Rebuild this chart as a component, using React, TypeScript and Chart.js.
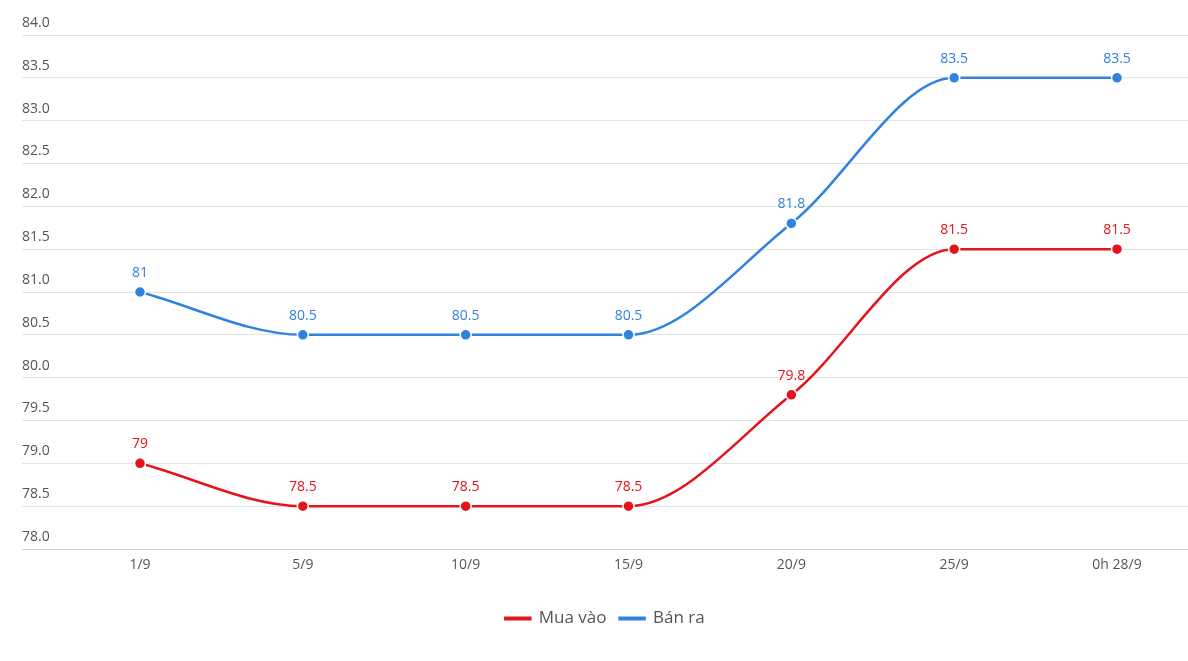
import React, { useEffect, useRef } from "react";
import { Chart, registerables } from "chart.js";

Chart.register(...registerables);

const categories = ["1/9", "5/9", "10/9", "15/9", "20/9", "25/9", "0h 28/9"];
const muaVao = [79, 78.5, 78.5, 78.5, 79.8, 81.5, 81.5];
const banRa = [81, 80.5, 80.5, 80.5, 81.8, 83.5, 83.5];
const seriesNames = ["Mua vào", "Bán ra"];
const RED = "#e3141b";
const BLUE = "#3182de";
const FONT = "'Open Sans', 'Noto Sans', sans-serif";

const dataLabelPlugin = {
  id: "dataLabels",
  afterDatasetsDraw(chart: any) {
    const ctx = chart.ctx;
    ctx.save();
    ctx.font = `14px ${FONT}`;
    ctx.textAlign = "center";
    ctx.textBaseline = "middle";
    chart.data.datasets.forEach((ds: any, di: number) => {
      const meta = chart.getDatasetMeta(di);
      ctx.fillStyle = ds.borderColor;
      meta.data.forEach((pt: any, i: number) => {
        const v = ds.data[i].y;
        ctx.fillText(String(v), pt.x, pt.y - 19);
      });
    });
    ctx.restore();
  },
};

export default function App() {
  const ref = useRef<HTMLCanvasElement | null>(null);
  useEffect(() => {
    if (!ref.current) return;
    const toPts = (arr: number[]) => arr.map((y, i) => ({ x: i, y }));
    const chart = new Chart(ref.current, {
      type: "line",
      data: {
        datasets: [
          {
            label: seriesNames[0],
            data: toPts(muaVao),
            borderColor: RED,
            backgroundColor: RED,
            borderWidth: 2.5,
            pointRadius: 5.5,
            pointBorderColor: "#ffffff",
            pointBorderWidth: 1.5,
            pointBackgroundColor: RED,
            cubicInterpolationMode: "monotone",
          },
          {
            label: seriesNames[1],
            data: toPts(banRa),
            borderColor: BLUE,
            backgroundColor: BLUE,
            borderWidth: 2.5,
            pointRadius: 5.5,
            pointBorderColor: "#ffffff",
            pointBorderWidth: 1.5,
            pointBackgroundColor: BLUE,
            cubicInterpolationMode: "monotone",
          },
        ],
      },
      options: {
        animation: false,
        responsive: false,
        maintainAspectRatio: false,
        layout: { autoPadding: false, padding: { top: 35, left: 22, right: 0, bottom: 24 } },
        plugins: {
          tooltip: { enabled: false },
          legend: {
            position: "bottom",
            labels: {
              boxWidth: 25,
              boxHeight: 1.5,
              padding: 13,
              color: "#555555",
              font: { family: FONT, size: 17 },
            },
          },
        },
        scales: {
          x: {
            type: "linear",
            min: -0.7247,
            max: 6.436,
            grid: { display: false, drawTicks: false },
            border: { display: true, color: "#d0d0d0" },
            afterFit: (s: any) => {
              s.height = 48;
              s.paddingLeft = 0;
              s.paddingRight = 0;
            },
            afterBuildTicks: (s: any) => {
              s.ticks = categories.map((_, i) => ({ value: i }));
            },
            ticks: {
              autoSkip: false,
              maxRotation: 0,
              padding: 8,
              color: "#555555",
              font: { family: FONT, size: 14 },
              callback: (v: any) => (Number.isInteger(v) ? categories[v] : ""),
            },
          },
          y: {
            min: 78,
            max: 84,
            grid: { color: "#e2e2e2", drawTicks: false },
            border: { display: false },
            afterFit: (s: any) => {
              s.width = 0;
            },
            ticks: {
              stepSize: 0.5,
              mirror: true,
              padding: 0,
              labelOffset: -12,
              color: "#555555",
              font: { family: FONT, size: 14 },
              callback: (v: any) => Number(v).toFixed(1),
            },
          },
        },
      },
      plugins: [dataLabelPlugin],
    } as any);
    return () => chart.destroy();
  }, []);
  return (
    <div style={{ position: "fixed", left: 0, top: 0, width: 1188, height: 661, background: "#fff" }}>
      <canvas ref={ref} width={1188} height={661} style={{ display: "block" }} />
    </div>
  );
}
